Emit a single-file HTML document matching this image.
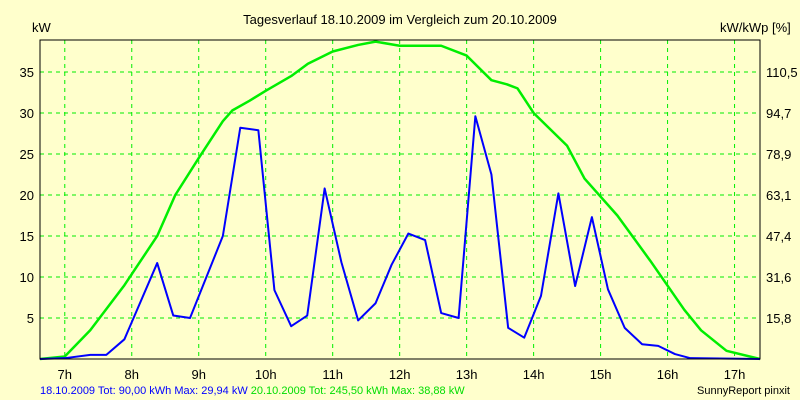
<!DOCTYPE html>
<html><head><meta charset="utf-8"><style>
body{margin:0;background:#ffffcc;}
svg{display:block;font-family:"Liberation Sans",sans-serif;}
</style></head><body>
<svg id="c" width="800" height="400">
<rect width="800" height="400" fill="#ffffcc"/>
<text x="400" y="24" font-size="13" text-anchor="middle">Tagesverlauf 18.10.2009 im Vergleich zum 20.10.2009</text>
<text x="32" y="32" font-size="13">kW</text>
<text x="720" y="32" font-size="13">kW/kWp [%]</text>
<g id="grid"></g><g id="series"></g>
<rect x="40" y="40" width="720" height="319" fill="none" stroke="#000" stroke-width="1"/>
<text x="40" y="394" font-size="11"><tspan fill="#0000ff">18.10.2009 Tot: 90,00 kWh Max: 29,94 kW</tspan><tspan fill="#00dd00"> 20.10.2009 Tot: 245,50 kWh Max: 38,88 kW</tspan></text>
<text x="790" y="394" font-size="11" text-anchor="end">SunnyReport pinxit</text>
</svg>
<script>
const hourTicks=[7,8,9,10,11,12,13,14,15,16,17];
const kwTicks=[5,10,15,20,25,30,35];
const pctLabels=["15,8","31,6","47,4","63,1","78,9","94,7","110,5"];
const blueHours=[6.63,7.0,7.38,7.62,7.89,8.38,8.62,8.87,9.36,9.62,9.89,10.13,10.38,10.62,10.88,11.13,11.38,11.64,11.88,12.13,12.38,12.62,12.88,13.13,13.37,13.62,13.86,14.11,14.37,14.62,14.87,15.11,15.36,15.62,15.86,16.11,16.34,17.38];
const blueKW=[0,0.1,0.5,0.5,2.4,11.7,5.3,5,15,28.2,27.9,8.4,4,5.3,20.8,11.8,4.7,6.8,11.5,15.3,14.5,5.6,5,29.6,22.5,3.8,2.6,7.7,20.2,8.9,17.3,8.5,3.8,1.8,1.6,0.6,0.1,0];
const greenHours=[6.63,7.0,7.38,7.89,8.38,8.65,9.0,9.36,9.5,9.76,10.0,10.38,10.63,11.0,11.38,11.64,12.0,12.62,13.0,13.37,13.6,13.76,14.0,14.5,14.76,15.25,15.74,16.25,16.5,16.88,17.38];
const greenKW=[0,0.3,3.5,9,15,20,24.5,29,30.3,31.5,32.7,34.5,36,37.5,38.3,38.7,38.2,38.2,37,34,33.5,33,30,26,22,17.5,12,6,3.5,1,0];
const L=40,R=760,T=40,B=359,H0=6.63,H1=17.38,KMAX=38.9;
const xs=h=>L+(h-H0)/(H1-H0)*(R-L);
const ys=v=>B-v/KMAX*(B-T);
const NS="http://www.w3.org/2000/svg";
const g=document.getElementById('grid'),s=document.getElementById('series'),svg=document.getElementById('c');
function mk(tag,at,parent){const e=document.createElementNS(NS,tag);for(const k in at)e.setAttribute(k,at[k]);parent.appendChild(e);return e;}
hourTicks.forEach(h=>{const x=xs(h);
const l=mk('line',{x1:x,x2:x,y1:T,y2:B,stroke:'#00ee00','stroke-dasharray':'4,4'},g);


const t=mk('text',{x:x,y:379,'font-size':13,'text-anchor':'middle'},svg);t.textContent=h+'h';

});
kwTicks.forEach((v,i)=>{const y=ys(v);
const l=mk('line',{x1:L,x2:R,y1:y,y2:y,stroke:'#00ee00','stroke-dasharray':'4,4'},g);


const t=mk('text',{x:34,y:y+5,'font-size':13,'text-anchor':'end'},svg);t.textContent=v;


const t2=mk('text',{x:766,y:y+5,'font-size':13},svg);t2.textContent=pctLabels[i];

});
function line(hs,vs,col,w,name){const p=mk('polyline',{points:hs.map((h,i)=>xs(h)+','+ys(vs[i])).join(' '),fill:'none',stroke:col,'stroke-width':w,'stroke-linejoin':'round'},s);

}
line(greenHours,greenKW,'#00ee00',2.5,'series-20-10-2009');
line(blueHours,blueKW,'#0000ff',2,'series-18-10-2009');
</script>
</body></html>
